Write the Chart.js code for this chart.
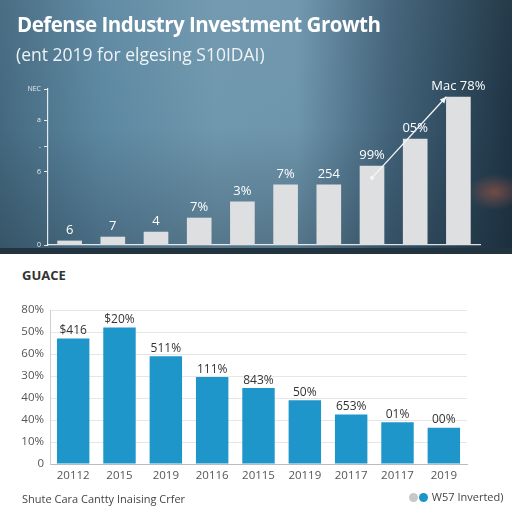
<!DOCTYPE html>
<html>
<head>
<meta charset="utf-8">
<script src="https://cdn.jsdelivr.net/npm/chart.js@4.4.1/dist/chart.umd.min.js"></script>
<style>
  html,body{margin:0;padding:0;width:512px;height:512px;overflow:hidden;background:#fff;font-family:"Open Sans",sans-serif;}
  #top{position:absolute;left:0;top:0;width:512px;height:254px;
    background:
      radial-gradient(ellipse 28px 18px at 495px 192px, rgba(210,100,70,0.45), rgba(210,100,70,0) 100%),
      linear-gradient(180deg, rgba(255,255,255,0.03) 0%, rgba(0,0,0,0) 50%, rgba(20,35,48,0.3) 100%),
      linear-gradient(90deg, #44697f 0%, #5d88a2 20%, #6f97ad 42%, #6d95ac 58%, #42637a 76%, #1e3444 100%);}
  #topStrip{position:absolute;left:0;top:248px;width:512px;height:6px;background:#22343f;}
  #title{position:absolute;left:17px;top:10px;color:#fff;font-weight:700;font-size:20.5px;letter-spacing:-0.5px;white-space:nowrap;}
  #subtitle{position:absolute;left:16px;top:42px;color:#eef3f6;font-size:17.5px;white-space:nowrap;}
  #c1{position:absolute;left:0;top:0;}
  #c2{position:absolute;left:0;top:254px;}
  #h2{position:absolute;left:22px;top:266px;font-weight:700;font-size:13px;color:#333;}
  #foot{position:absolute;left:22px;top:491px;font-size:11px;color:#444;}
  #leg{position:absolute;left:409px;top:489px;font-size:11px;color:#444;white-space:nowrap;}
  .dot{display:inline-block;width:9px;height:9px;border-radius:50%;vertical-align:-1px;margin-right:1px;}
</style>
</head>
<body>
<div id="top"></div>
<div id="topStrip"></div>
<canvas id="c1" width="512" height="254"></canvas>
<div id="title">Defense Industry Investment Growth</div>
<div id="subtitle">(ent 2019 for elgesing S10IDAI)</div>
<div id="h2">GUACE</div>
<canvas id="c2" width="512" height="258"></canvas>
<div id="foot">Shute Cara Cantty Inaising Crfer</div>
<div id="leg"><span class="dot" style="background:#c8c8c8"></span><span class="dot" style="background:#1e94c8"></span> W57 Inverted)</div>
<script>
// ---- Top chart data ----
const topCategories = ["a","b","c","d","e","f","g","h","i","j"];
const topValues = [2.6, 5.1, 8.3, 17.3, 27.6, 38.5, 38.5, 50.6, 67.9, 94.9];
const topLabels = ["6","7","4","7%","3%","7%","254","99%","05%","Mac 78%"];
const topTickValues = [0, 47, 63, 80, 100];
const topTickLabels = ["0","6","-","a","NEC"];
const arrowFrom = [7, 43];
const arrowTo = [8.72, 95];

// ---- Bottom chart data ----
const bottomCategories = ["20112","2015","2019","20116","20115","20119","20117","20117","2019"];
const bottomValues = [57, 62, 49, 39.5, 34.5, 29, 22.5, 19, 16.5];
const bottomLabels = ["$416","$20%","511%","111%","843%","50%","653%","01%","00%"];
const bottomTickLabels = ["0","10%","40%","40%","30%","60%","50%","80%"];

const valueLabelPlugin = {
  id: 'valueLabels',
  afterDatasetsDraw(chart, args, opts) {
    const ctx = chart.ctx;
    const meta = chart.getDatasetMeta(0);
    ctx.save();
    ctx.font = opts.font;
    ctx.fillStyle = opts.color;
    ctx.textAlign = 'center';
    ctx.textBaseline = 'middle';
    meta.data.forEach((bar, i) => {
      ctx.fillText(opts.labels[i], bar.x, bar.y - opts.offset);
    });
    if (opts.arrow) {
      const xs = chart.scales.x, ys = chart.scales.y;
      const x1 = xs.getPixelForValue(opts.arrow.from[0]), y1 = ys.getPixelForValue(opts.arrow.from[1]);
      const x2 = xs.getPixelForValue(opts.arrow.to[0]), y2 = ys.getPixelForValue(opts.arrow.to[1]);
      ctx.strokeStyle = '#f4f6f8'; ctx.fillStyle = '#f4f6f8'; ctx.lineWidth = 1.3;
      ctx.beginPath(); ctx.moveTo(x1, y1); ctx.lineTo(x2, y2); ctx.stroke();
      ctx.beginPath(); ctx.arc(x1, y1, 2, 0, Math.PI*2); ctx.fill();
      const a = Math.atan2(y2 - y1, x2 - x1), L = 7;
      ctx.beginPath(); ctx.moveTo(x2, y2);
      ctx.lineTo(x2 - L*Math.cos(a - 0.45), y2 - L*Math.sin(a - 0.45));
      ctx.lineTo(x2 - L*Math.cos(a + 0.45), y2 - L*Math.sin(a + 0.45));
      ctx.closePath(); ctx.fill();
    }
    ctx.restore();
  }
};

new Chart(document.getElementById('c1'), {
  type: 'bar',
  data: { labels: topCategories, datasets: [{ data: topValues, backgroundColor: '#dedfe0', barThickness: 24 }] },
  plugins: [valueLabelPlugin],
  options: {
    responsive: false, animation: false, devicePixelRatio: 1,
    layout: { padding: { top: 89, right: 32, bottom: 9, left: 0 } },
    plugins: { legend: { display: false }, tooltip: { enabled: false },
      valueLabels: { labels: topLabels, font: '13px "Open Sans", sans-serif', color: '#ffffff', offset: 11,
        arrow: { from: arrowFrom, to: arrowTo } } },
    scales: {
      x: { grid: { display: false, drawTicks: false }, ticks: { display: false },
           border: { display: true, color: 'rgba(255,255,255,0.85)', width: 1.2 } },
      y: { min: 0, max: 100,
           afterBuildTicks: s => { s.ticks = topTickValues.map(v => ({ value: v })); },
           afterFit: s => { s.width = 48; },
           ticks: { color: '#e8eef2', font: { size: 7, family: '"Open Sans", sans-serif' }, padding: 3,
                    callback: (v, i) => topTickLabels[i] },
           grid: { drawOnChartArea: false, drawTicks: true, tickLength: 4, color: 'rgba(255,255,255,0.85)' },
           border: { display: true, color: 'rgba(255,255,255,0.85)', width: 1.2 } }
    }
  }
});

new Chart(document.getElementById('c2'), {
  type: 'bar',
  data: { labels: bottomCategories, datasets: [{ data: bottomValues, backgroundColor: '#1f96ca', barPercentage: 0.7, categoryPercentage: 1.0 }] },
  plugins: [valueLabelPlugin],
  options: {
    responsive: false, animation: false, devicePixelRatio: 1,
    layout: { padding: { top: 56, right: 45, bottom: 0, left: 0 } },
    plugins: { legend: { display: false }, tooltip: { enabled: false },
      valueLabels: { labels: bottomLabels, font: '12px "Open Sans", sans-serif', color: '#333333', offset: 8 } },
    scales: {
      x: { afterFit: s => { s.height = 48; },
           grid: { display: false, drawTicks: true, tickLength: 3 },
           ticks: { color: '#555', font: { size: 11.5, family: '"Open Sans", sans-serif' }, padding: 2, maxRotation: 0 },
           border: { display: true, color: '#bbbbbb' } },
      y: { min: 0, max: 70,
           afterFit: s => { s.width = 50; },
           ticks: { stepSize: 10, color: '#555', font: { size: 11.5, family: '"Open Sans", sans-serif' }, padding: 6,
                    callback: (v, i) => bottomTickLabels[i] },
           grid: { color: '#e6e6e6', drawTicks: false },
           border: { display: true, color: '#cfcfcf' } }
    }
  }
});
</script>
</body>
</html>
